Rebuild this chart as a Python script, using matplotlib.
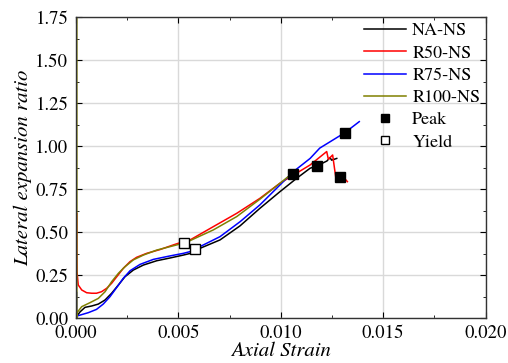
import numpy as np
import matplotlib.pyplot as plt

plt.rcParams['font.family'] = 'serif'
plt.rcParams['font.serif'] = ['TeX Gyre Termes', 'Liberation Serif', 'STIXGeneral', 'DejaVu Serif']

# NA-NS
na_x = [0.0, 0.0002, 0.00044, 0.00077, 0.00109, 0.00142, 0.00174, 0.00207, 0.00239, 0.0028,
        0.00329, 0.00394, 0.00459, 0.00524, 0.00573, 0.00605, 0.00703, 0.00801, 0.00898,
        0.00996, 0.01078, 0.01143, 0.01175, 0.01225, 0.01240, 0.01248, 0.01273]
na_y = [0.006, 0.038, 0.064, 0.072, 0.083, 0.107, 0.146, 0.194, 0.242, 0.281,
        0.31, 0.335, 0.351, 0.368, 0.382, 0.407, 0.456, 0.538, 0.64,
        0.737, 0.815, 0.873, 0.886, 0.915, 0.935, 0.92, 0.93]
# R50-NS
r50_x = [0.00004, 0.00004, 0.00005, 0.00011, 0.00028, 0.00052, 0.00077, 0.001, 0.00125, 0.0015,
         0.00174, 0.00199, 0.00231, 0.00264, 0.00296, 0.00345, 0.0041, 0.00475, 0.00524,
         0.00557, 0.0067, 0.00785, 0.00898, 0.00996, 0.01143, 0.01224, 0.01232, 0.01253,
         0.01262, 0.01269, 0.01318, 0.01325]
r50_y = [0.61, 0.40, 0.27, 0.194, 0.165, 0.149, 0.146, 0.146, 0.155, 0.175,
         0.204, 0.242, 0.291, 0.33, 0.355, 0.378, 0.40, 0.427, 0.446,
         0.456, 0.533, 0.611, 0.698, 0.786, 0.892, 0.97, 0.925, 0.95,
         0.873, 0.815, 0.805, 0.795]
# R75-NS
r75_x = [0.00003, 0.00003, 0.0002, 0.0006, 0.001, 0.00133, 0.00166, 0.00199, 0.00231, 0.00264,
         0.00313, 0.00378, 0.00459, 0.00524, 0.00573, 0.00605, 0.00703, 0.00801, 0.00898,
         0.00996, 0.01061, 0.01143, 0.0119, 0.01313, 0.01383]
r75_y = [0.15, 0.013, 0.019, 0.033, 0.052, 0.083, 0.126, 0.18, 0.233, 0.277,
         0.314, 0.343, 0.363, 0.378, 0.393, 0.417, 0.475, 0.562, 0.66,
         0.776, 0.853, 0.93, 0.99, 1.08, 1.144]
# R100-NS
r100_x = [0.00004, 0.00004, 0.00005, 0.00028, 0.00068, 0.00109, 0.00142, 0.00174, 0.00207, 0.00239,
          0.0028, 0.00329, 0.00394, 0.00459, 0.00524, 0.00557, 0.0067, 0.00785, 0.00898,
          0.00996, 0.01053]
r100_y = [1.75, 0.0, 0.033, 0.068, 0.091, 0.116, 0.155, 0.213, 0.262, 0.30,
          0.34, 0.368, 0.397, 0.417, 0.437, 0.452, 0.514, 0.592, 0.693,
          0.786, 0.84]

peak_x = [0.01061, 0.01175, 0.01289, 0.01313]
peak_y = [0.84, 0.886, 0.824, 1.08]
yield_x = [0.00527, 0.00581]
yield_y = [0.44, 0.403]

fig = plt.figure(figsize=(5.08, 3.63), dpi=100)
ax = fig.add_axes([0.1496, 0.123, 0.8064, 0.829])

lw = 1.1
ax.plot(na_x, na_y, color='black', lw=lw, label='NA-NS')
ax.plot(r50_x, r50_y, color='red', lw=lw, label='R50-NS')
ax.plot(r75_x, r75_y, color='blue', lw=lw, label='R75-NS')
ax.plot(r100_x, r100_y, color='#808000', lw=lw, label='R100-NS')
ax.plot(peak_x, peak_y, 's', color='black', ms=7.5, ls='none', label='Peak')
ax.plot(yield_x, yield_y, 's', mfc='white', mec='black', mew=1.0, ms=7.5, ls='none', label='Yield')

ax.set_xlim(0, 0.020)
ax.set_ylim(0, 1.75)
ax.set_xticks([0.0, 0.005, 0.010, 0.015, 0.020])
ax.set_xticklabels(['0.000', '0.005', '0.010', '0.015', '0.020'])
ax.set_yticks(np.arange(0, 1.76, 0.25))
ax.set_yticklabels(['%.2f' % v for v in np.arange(0, 1.76, 0.25)])
ax.set_xticks(np.arange(0.0025, 0.02, 0.005), minor=True)
ax.set_yticks(np.arange(0.125, 1.75, 0.25), minor=True)
ax.tick_params(which='both', direction='in', top=True, right=True, labelsize=13.5)
ax.tick_params(axis='y', pad=5.5)
ax.tick_params(axis='x', pad=4.5)
ax.tick_params(which='major', length=4)
ax.tick_params(which='minor', length=2.5)
ax.grid(True, which='major', color='#d9d9d9', lw=1.0)
ax.set_axisbelow(True)
for s in ax.spines.values():
    s.set_color('#333333')
    s.set_linewidth(1.0)

ax.set_xlabel('Axial Strain', fontsize=15, style='italic', labelpad=0)
ax.set_ylabel('Lateral expansion ratio', fontsize=15, style='italic', labelpad=2)

ax.legend(loc='upper right', frameon=False, fontsize=13, handlelength=2.3, numpoints=1,
          markerscale=0.7, handletextpad=0.35, labelspacing=0.31, borderaxespad=0.1,
          borderpad=0.2)

fig.savefig('out.png', dpi=100)
